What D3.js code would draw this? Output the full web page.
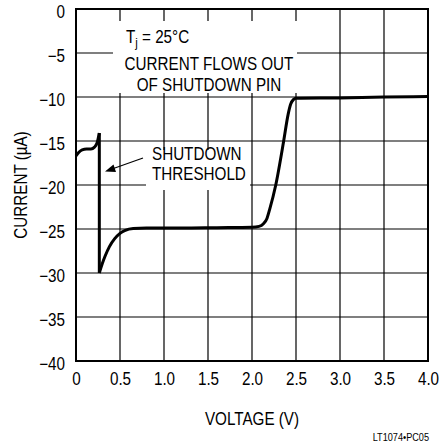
<!DOCTYPE html>
<html><head><meta charset="utf-8">
<script src="https://cdn.jsdelivr.net/npm/d3@7"></script>
<style>
html,body{margin:0;padding:0;background:#fff;}
svg text{font-family:"Liberation Sans",Arial,sans-serif;fill:#000;}
</style></head>
<body>
<svg id="c" width="439" height="446"></svg>
<script>
const xTicks = [0,0.5,1.0,1.5,2.0,2.5,3.0,3.5,4.0];
const xTickLabels = ["0","0.5","1.0","1.5","2.0","2.5","3.0","3.5","4.0"];
const yTicks = [0,-5,-10,-15,-20,-25,-30,-35,-40];
const yTickLabels = ["0","\u22125","\u221210","\u221215","\u221220","\u221225","\u221230","\u221235","\u221240"];
// before shutdown threshold
const seg1V = [0,0.03,0.07,0.12,0.17,0.21,0.24,0.265];
const seg1I = [-16.7,-16.3,-16.0,-15.9,-15.9,-15.7,-15.2,-14.1];
// drop at threshold
const dropV = [0.265,0.265];
const dropI = [-14.1,-30];
// recovery and rise
const seg2V = [0.265,0.3,0.33,0.38,0.44,0.5,0.56,0.65,0.8,1.2,1.6,2.0,2.08,2.13,2.17,2.2,2.27,2.36,2.41,2.44,2.47,2.5,3.0,3.5,4.0];
const seg2I = [-30,-28.9,-28.1,-27,-26.1,-25.5,-25.15,-24.95,-24.9,-24.9,-24.85,-24.8,-24.7,-24.4,-23.8,-22.8,-20,-15,-12,-10.8,-10.3,-10.15,-10.1,-10.0,-9.95];

const FS = 17.5, SX = 0.87;
const svg = d3.select("#c");
const L=76, R=428, T=9, B=361;
const x = d3.scaleLinear().domain([0,4]).range([L,R]);
const y = d3.scaleLinear().domain([-40,0]).range([B,T]);

function cond(sel){
  sel.each(function(){
    const t = d3.select(this);
    const xv = +(t.attr("x")||0);
    const yv = +(t.attr("y")||0);
    t.attr("x", xv/SX).attr("y", yv);
    const prev = t.attr("transform") || "";
    t.attr("transform", (prev+" scale("+SX+",1)").trim());
  });
}

// grid
const g = svg.append("g");
g.selectAll("line.v").data(xTicks).join("line")
  .attr("x1",d=>x(d)).attr("x2",d=>x(d)).attr("y1",T).attr("y2",B)
  .attr("stroke","#000").attr("stroke-width",1.2);
g.selectAll("line.h").data(yTicks).join("line")
  .attr("x1",L).attr("x2",R).attr("y1",d=>y(d)).attr("y2",d=>y(d))
  .attr("stroke","#000").attr("stroke-width",1.2);
svg.append("rect").attr("x",L).attr("y",T).attr("width",R-L).attr("height",B-T)
  .attr("fill","none").attr("stroke","#000").attr("stroke-width",2);

// white label boxes
svg.append("rect").attr("x",113).attr("y",21).attr("width",184).attr("height",72).attr("fill","#fff");
svg.append("rect").attr("x",146).attr("y",150).attr("width",104).attr("height",40).attr("fill","#fff");

// axes labels
const xa = d3.axisBottom(x).tickValues(xTicks).tickFormat((d,i)=>xTickLabels[i]).tickSize(0).tickPadding(12);
const xg = svg.append("g").attr("transform",`translate(0,${B})`).call(xa);
xg.select(".domain").remove();
xg.selectAll("text").attr("font-size",FS).style("font-family",null).call(cond);
const ya = d3.axisLeft(y).tickValues(yTicks).tickFormat((d,i)=>yTickLabels[i]).tickSize(0).tickPadding(11);
const yg = svg.append("g").attr("transform",`translate(${L},0)`).call(ya);
yg.select(".domain").remove();
yg.selectAll("text").attr("font-size",FS).attr("dy","0.5em").style("font-family",null).call(cond);

// curve
const line = d3.line().x(d=>x(d[0])).y(d=>y(d[1])).curve(d3.curveMonotoneX);
const lin = d3.line().x(d=>x(d[0])).y(d=>y(d[1]));
const s1 = seg1V.map((v,i)=>[v,seg1I[i]]);
const s2 = seg2V.map((v,i)=>[v,seg2I[i]]);
const dr = dropV.map((v,i)=>[v,dropI[i]]);
svg.append("path").attr("d",line(s1)).attr("fill","none").attr("stroke","#000").attr("stroke-width",3);
svg.append("path").attr("d",lin(dr)).attr("fill","none").attr("stroke","#000").attr("stroke-width",3);
svg.append("path").attr("d",line(s2)).attr("fill","none").attr("stroke","#000").attr("stroke-width",3).attr("stroke-linejoin","round");

// annotations
const t1 = svg.append("text").attr("x",126).attr("y",43).attr("font-size",FS);
t1.append("tspan").text("T");
t1.append("tspan").attr("font-size",13).attr("dy",4).text("j");
t1.append("tspan").attr("dy",-4).text(" = 25\u00B0C");
t1.call(cond);
svg.append("text").attr("x",209).attr("y",70).attr("text-anchor","middle").attr("font-size",FS).text("CURRENT FLOWS OUT").call(cond);
svg.append("text").attr("x",209).attr("y",91).attr("text-anchor","middle").attr("font-size",FS).text("OF SHUTDOWN PIN").call(cond);
svg.append("text").attr("x",152).attr("y",160).attr("font-size",FS).text("SHUTDOWN").call(cond);
svg.append("text").attr("x",152).attr("y",180).attr("font-size",FS).text("THRESHOLD").call(cond);

// arrow
svg.append("line").attr("x1",143).attr("y1",158).attr("x2",112).attr("y2",169).attr("stroke","#000").attr("stroke-width",1.2);
svg.append("path").attr("d","M105,171.5 L113.5,164.5 L116,172 Z").attr("fill","#000");

svg.append("text").attr("x",252).attr("y",425).attr("text-anchor","middle").attr("font-size",FS).text("VOLTAGE (V)").call(cond);
svg.append("text").attr("transform","translate(27,185) rotate(-90)").attr("text-anchor","middle").attr("font-size",FS).text("CURRENT (\u00B5A)").call(cond);
svg.append("text").attr("x",429).attr("y",441).attr("text-anchor","end").attr("font-size",10.5).text("LT1074\u2022PC05").call(cond);
</script>
</body></html>
